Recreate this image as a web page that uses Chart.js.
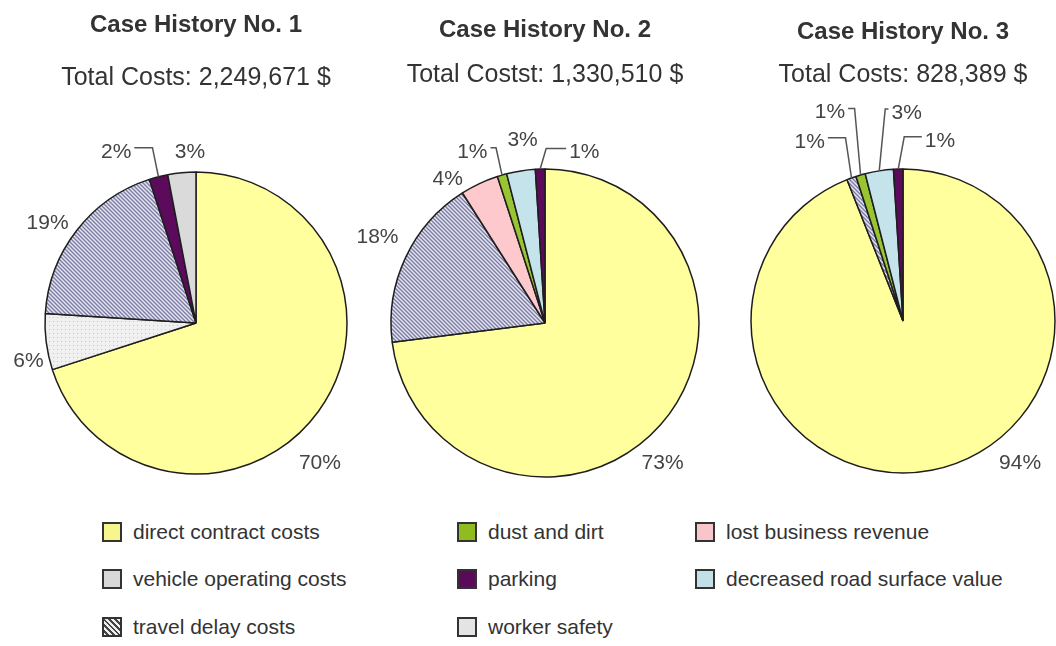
<!DOCTYPE html>
<html>
<head>
<meta charset="utf-8">
<script src="https://cdn.jsdelivr.net/npm/chart.js@4.4.1/dist/chart.umd.min.js"></script>
<style>
  body { margin: 0; background: #fff; width: 1056px; height: 646px; position: relative; overflow: hidden; font-family: 'Liberation Sans', Arial, sans-serif; }
  canvas { position: absolute; top: 0; }
  .leg { position: absolute; height: 24px; display: flex; align-items: center; font-size: 21px; color: #333; white-space: nowrap; }
  .sw { width: 16px; height: 16px; border: 2px solid #333; margin-right: 11px; flex: none; }
</style>
</head>
<body>
<canvas id="c1"></canvas>
<canvas id="c2"></canvas>
<canvas id="c3"></canvas>
<div id="legend"></div>
<script>
// categories in slice order (clockwise from 12 o'clock)
const categories = ['direct contract costs', 'vehicle operating costs', 'travel delay costs', 'lost business revenue',
  'dust and dirt', 'decreased road surface value', 'parking', 'worker safety']
const titles = ['Case History No. 1', 'Case History No. 2', 'Case History No. 3']
const subtitles = ['Total Costs: 2,249,671 $', 'Total Costst: 1,330,510 $', 'Total Costs: 828,389 $']
const case1 = [70, 6, 19, 0, 0, 0, 2, 3]
const case2 = [73, 0, 18, 4, 1, 3, 1, 0]
const case3 = [94, 0, 1, 0, 1, 3, 1, 0]

// where the % labels sit: [angle clockwise from top, distance from centre, leader line]
const spots1 = [[138.5, 187], [257, 172], [304, 179], null, null, null, [335, 189, true], [358, 171]]
const spots2 = [[140, 183], null, [297, 188], [326, 174], [337, 186, true], [353, 184], [13, 175, true], null]
const spots3 = [[140.5, 184], null, [332.5, 202, true], null, [340.7, 221, true], [1, 208, true], [11.6, 184, true], null]

const boxes = [
  { id: 'c1', left: 0, width: 392, cy: 323, r: 151, titleY: 25, subY: 78 },
  { id: 'c2', left: 355, width: 380, cy: 323, r: 154, titleY: 30, subY: 75 },
  { id: 'c3', left: 750, width: 306, cy: 321, r: 152, titleY: 32, subY: 75 }
]
const H = 510
const FONT = "'Liberation Sans', Arial, sans-serif"

function hatchPattern(ctx) {
  const c = document.createElement('canvas')
  c.width = 4; c.height = 4
  const g = c.getContext('2d')
  g.fillStyle = '#e4e4f0'
  g.fillRect(0, 0, 4, 4)
  g.strokeStyle = '#7a7aa2'
  g.lineWidth = 1.3
  g.beginPath()
  g.moveTo(-1, -1); g.lineTo(5, 5)
  g.moveTo(-1, 3); g.lineTo(1, 5)
  g.moveTo(3, -1); g.lineTo(5, 1)
  g.stroke()
  return ctx.createPattern(c, 'repeat')
}

function dotPattern(ctx) {
  const c = document.createElement('canvas')
  c.width = 4; c.height = 4
  const g = c.getContext('2d')
  g.fillStyle = '#f0f0f0'
  g.fillRect(0, 0, 4, 4)
  g.fillStyle = '#c8c8c8'
  g.fillRect(1, 1, 1, 1)
  return ctx.createPattern(c, 'repeat')
}

const pctLabels = {
  id: 'pctLabels',
  afterDatasetsDraw(chart, args, opts) {
    const ctx = chart.ctx
    const meta = chart.getDatasetMeta(0)
    const values = chart.data.datasets[0].data
    ctx.save()
    ctx.font = '21px ' + FONT
    ctx.fillStyle = '#444'
    ctx.strokeStyle = '#555'
    ctx.lineWidth = 1.5
    ctx.textAlign = 'center'
    ctx.textBaseline = 'middle'
    meta.data.forEach(function (arc, i) {
      const spot = opts.spots[i]
      if (!values[i] || !spot) return
      const p = arc.getProps(['x', 'y', 'startAngle', 'endAngle', 'outerRadius'], true)
      const a = spot[0] * Math.PI / 180 - Math.PI / 2
      const tx = p.x + spot[1] * Math.cos(a)
      const ty = p.y + spot[1] * Math.sin(a)
      const text = values[i] + '%'
      ctx.fillText(text, tx, ty)
      if (spot[2]) {
        const mid = (p.startAngle + p.endAngle) / 2
        const px = p.x + p.outerRadius * Math.cos(mid)
        const py = p.y + p.outerRadius * Math.sin(mid)
        const side = tx > px ? 1 : -1
        const half = ctx.measureText(text).width / 2
        ctx.beginPath()
        ctx.moveTo(px, py)
        ctx.lineTo(px + side * 6, ty - 4)
        ctx.lineTo(tx - side * (half + 3), ty - 4)
        ctx.stroke()
      }
    })
    ctx.restore()
  }
}

const allValues = [case1, case2, case3]
const allSpots = [spots1, spots2, spots3]

boxes.forEach(function (b, k) {
  const canvas = document.getElementById(b.id)
  canvas.width = b.width
  canvas.height = H
  canvas.style.left = b.left + 'px'
  const ctx = canvas.getContext('2d')
  const colors = ['#ffff9e', dotPattern(ctx), hatchPattern(ctx), '#fdc9cd', '#98c531', '#c5e3eb', '#5c0a5c', '#dadada']

  new Chart(ctx, {
    type: 'pie',
    data: {
      labels: categories,
      datasets: [{
        data: allValues[k],
        backgroundColor: colors,
        borderColor: '#1e1e1e',
        borderWidth: function (c) { return c.raw ? 1.5 : 0 },
        radius: b.r
      }]
    },
    options: {
      responsive: false,
      animation: false,
      events: [],
      layout: { padding: { top: 0, left: 0, right: 0, bottom: H - (b.cy + b.r) } },
      plugins: {
        legend: { display: false },
        tooltip: { enabled: false },
        title: {
          display: true,
          text: titles[k],
          color: '#333',
          font: { family: FONT, size: 24, weight: 'bold' },
          padding: { top: b.titleY - 14.4, bottom: 0 }
        },
        subtitle: {
          display: true,
          text: subtitles[k],
          color: '#333',
          font: { family: FONT, size: 25 },
          padding: { top: b.subY - 15 - (b.titleY + 14.4), bottom: (b.cy - b.r) - (b.subY + 15) }
        },
        pctLabels: { spots: allSpots[k] }
      }
    },
    plugins: [pctLabels]
  })
})

// shared legend
const swatches = ['#f6f68c', '#d8d8d8', 'repeating-linear-gradient(45deg, #eee 0 2px, #444 2px 4px)', '#f7c6cc',
  '#8fbc1e', '#c2e0e6', '#5a0a5a', '#e4e4e4']
const legendCols = [[0, 1, 2], [4, 6, 7], [3, 5]]
const colX = [102, 457, 695]
const rowY = [532, 579, 627]
const legend = document.getElementById('legend')
legendCols.forEach(function (col, c) {
  col.forEach(function (idx, r) {
    const item = document.createElement('div')
    item.className = 'leg'
    item.style.left = colX[c] + 'px'
    item.style.top = (rowY[r] - 12) + 'px'
    const sw = document.createElement('span')
    sw.className = 'sw'
    sw.style.background = swatches[idx]
    const label = document.createElement('span')
    label.textContent = categories[idx]
    item.appendChild(sw)
    item.appendChild(label)
    legend.appendChild(item)
  })
})
</script>
</body>
</html>
